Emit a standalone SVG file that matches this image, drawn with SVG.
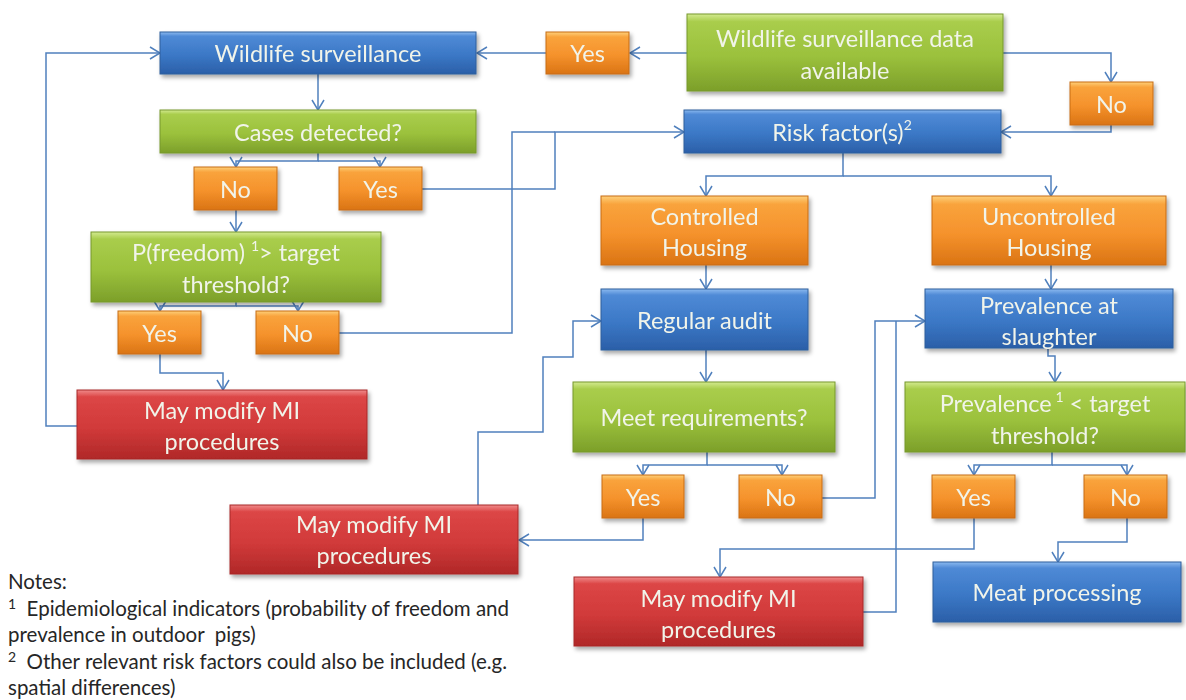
<svg xmlns="http://www.w3.org/2000/svg" width="1186" height="700" viewBox="0 0 1186 700">
<style>
.t{font-family:Lato,"Open Sans","Liberation Sans",sans-serif;font-size:23.5px;fill:#f1f4ea;text-anchor:middle;dominant-baseline:central}
.blue{fill:url(#gB);stroke:#2f5f9c;stroke-width:1}
.green{fill:url(#gG);stroke:#76982c;stroke-width:1}
.orange{fill:url(#gO);stroke:#c86d12;stroke-width:1}
.red{fill:url(#gR);stroke:#a82828;stroke-width:1}
.box{filter:url(#sh)}
.c{fill:none;stroke:#5080bd;stroke-width:1.5}
.a{marker-end:url(#arr)}
.n{font-family:Lato,"Open Sans","Liberation Sans",sans-serif;font-size:20.5px;fill:#262626;white-space:pre}
.sup{font-size:14px}
</style>
<defs>
<linearGradient id="gB" x1="0" y1="0" x2="0" y2="1">
<stop offset="0" stop-color="#8cbaf0"/><stop offset="0.1" stop-color="#4f8ad6"/><stop offset="0.55" stop-color="#3b78c6"/><stop offset="1" stop-color="#2b5fa8"/>
</linearGradient>
<linearGradient id="gG" x1="0" y1="0" x2="0" y2="1">
<stop offset="0" stop-color="#d3ea90"/><stop offset="0.1" stop-color="#a9cd4c"/><stop offset="0.55" stop-color="#9bc13c"/><stop offset="1" stop-color="#7c9f2a"/>
</linearGradient>
<linearGradient id="gO" x1="0" y1="0" x2="0" y2="1">
<stop offset="0" stop-color="#fed07a"/><stop offset="0.12" stop-color="#f9a33c"/><stop offset="0.55" stop-color="#f5922c"/><stop offset="1" stop-color="#da7414"/>
</linearGradient>
<linearGradient id="gR" x1="0" y1="0" x2="0" y2="1">
<stop offset="0" stop-color="#f08a8a"/><stop offset="0.1" stop-color="#dc4646"/><stop offset="0.55" stop-color="#d13a3a"/><stop offset="1" stop-color="#b02828"/>
</linearGradient>
<filter id="sh" x="-10%" y="-20%" width="125%" height="150%">
<feDropShadow dx="2" dy="3" stdDeviation="2" flood-color="#000" flood-opacity="0.35"/>
</filter>
<marker id="arr" markerUnits="userSpaceOnUse" viewBox="0 0 12 14" refX="11" refY="7" markerWidth="12" markerHeight="14" orient="auto">
<path d="M1,1 L11,7 L1,13" fill="none" stroke="#5080bd" stroke-width="1.5"/>
</marker>
</defs>

<g id="connectors">
<path class="c a" d="M687,53 H630"/>
<path class="c a" d="M546,53 H477"/>
<path class="c a" d="M1003,53 H1111 V82"/>
<path class="c a" d="M1111,125 V132 H1001"/>
<path class="c a" d="M318,74 V110"/>
<path class="c a" d="M318,153 V161 H236 V167"/>
<path class="c a" d="M318,161 H380 V167"/>
<path class="c a" d="M236,210 V232"/>
<path class="c a" d="M422,189 H555 V132 H684"/>
<path class="c" d="M339,333 H512 V132 H555"/>
<path class="c a" d="M236,302 V306 H160 V311"/>
<path class="c a" d="M236,306 H298 V311"/>
<path class="c a" d="M160,354 V373 H223 V390"/>
<path class="c a" d="M77,426 H46 V53 H160"/>
<path class="c a" d="M843,153 V176 H706 V196"/>
<path class="c a" d="M843,176 H1051 V196"/>
<path class="c a" d="M706,265 V289"/>
<path class="c a" d="M1051,265 V289"/>
<path class="c a" d="M706,350 V382"/>
<path class="c a" d="M707,452 V465 H643 V475"/>
<path class="c a" d="M707,465 H782 V475"/>
<path class="c a" d="M643,518 V540 H519"/>
<path class="c a" d="M478,505 V432 H543 V357 H573 V321 H601"/>
<path class="c a" d="M822,498 H875 V321 H925"/>
<path class="c" d="M863,612 H896 V321"/>
<path class="c a" d="M1048,348 V356 H1055 V382"/>
<path class="c a" d="M1052,452 V465 H974 V475"/>
<path class="c a" d="M1052,465 H1127 V475"/>
<path class="c a" d="M974,518 V549 H720 V577"/>
<path class="c a" d="M1127,518 V542 H1058 V562"/>
</g>

<g id="n-ws" class="box"><rect class="blue" x="160" y="32" width="316" height="42"/><text class="t" x="318" y="53">Wildlife surveillance</text></g>
<g id="n-yes1" class="box"><rect class="orange" x="546" y="32" width="83" height="42"/><text class="t" x="587.5" y="53">Yes</text></g>
<g id="n-wsda" class="box"><rect class="green" x="687" y="14" width="316" height="77"/><text class="t" x="845" y="38">Wildlife surveillance data</text><text class="t" x="845" y="70">available</text></g>
<g id="n-no1" class="box"><rect class="orange" x="1070" y="82" width="83" height="43"/><text class="t" x="1111.5" y="103.5">No</text></g>
<g id="n-cd" class="box"><rect class="green" x="160" y="110" width="316" height="43"/><text class="t" x="318" y="131.5">Cases detected?</text></g>
<g id="n-rf" class="box"><rect class="blue" x="684" y="110" width="317" height="43"/><text class="t" x="842" y="131.5">Risk factor(s)<tspan class="sup" dy="-8">2</tspan></text></g>
<g id="n-no2" class="box"><rect class="orange" x="194" y="167" width="83" height="43"/><text class="t" x="235.5" y="188.5">No</text></g>
<g id="n-yes2" class="box"><rect class="orange" x="339" y="167" width="83" height="43"/><text class="t" x="380.5" y="188.5">Yes</text></g>
<g id="n-pf" class="box"><rect class="green" x="91" y="232" width="290" height="70"/><text class="t" x="236" y="252">P(freedom) <tspan class="sup" dy="-7">1</tspan><tspan dy="7">&gt; target</tspan></text><text class="t" x="236" y="284">threshold?</text></g>
<g id="n-ch" class="box"><rect class="orange" x="601" y="196" width="207" height="69"/><text class="t" x="704.5" y="216">Controlled</text><text class="t" x="704.5" y="247">Housing</text></g>
<g id="n-uh" class="box"><rect class="orange" x="932" y="196" width="234" height="69"/><text class="t" x="1049" y="216">Uncontrolled</text><text class="t" x="1049" y="247">Housing</text></g>
<g id="n-yes3" class="box"><rect class="orange" x="118" y="311" width="83" height="43"/><text class="t" x="159.5" y="332.5">Yes</text></g>
<g id="n-no3" class="box"><rect class="orange" x="256" y="311" width="83" height="43"/><text class="t" x="297.5" y="332.5">No</text></g>
<g id="n-ra" class="box"><rect class="blue" x="601" y="289" width="207" height="61"/><text class="t" x="704.5" y="319.5">Regular audit</text></g>
<g id="n-ps" class="box"><rect class="blue" x="925" y="289" width="248" height="59"/><text class="t" x="1049" y="305">Prevalence at</text><text class="t" x="1049" y="336">slaughter</text></g>
<g id="n-red1" class="box"><rect class="red" x="77" y="390" width="290" height="69"/><text class="t" x="222" y="410">May modify MI</text><text class="t" x="222" y="441">procedures</text></g>
<g id="n-mr" class="box"><rect class="green" x="573" y="382" width="262" height="70"/><text class="t" x="704" y="417">Meet requirements?</text></g>
<g id="n-pt" class="box"><rect class="green" x="905" y="382" width="280" height="70"/><text class="t" x="1045" y="403">Prevalence<tspan class="sup" dy="-7"> 1</tspan><tspan dy="7"> &lt; target</tspan></text><text class="t" x="1045" y="435">threshold?</text></g>
<g id="n-yes4" class="box"><rect class="orange" x="602" y="475" width="82" height="43"/><text class="t" x="643" y="496.5">Yes</text></g>
<g id="n-no4" class="box"><rect class="orange" x="739" y="475" width="83" height="43"/><text class="t" x="780.5" y="496.5">No</text></g>
<g id="n-yes5" class="box"><rect class="orange" x="932" y="475" width="83" height="43"/><text class="t" x="973.5" y="496.5">Yes</text></g>
<g id="n-no5" class="box"><rect class="orange" x="1084" y="475" width="83" height="43"/><text class="t" x="1125.5" y="496.5">No</text></g>
<g id="n-red2" class="box"><rect class="red" x="230" y="505" width="288" height="69"/><text class="t" x="374" y="524">May modify MI</text><text class="t" x="374" y="555">procedures</text></g>
<g id="n-mp" class="box"><rect class="blue" x="933" y="562" width="248" height="60"/><text class="t" x="1057" y="592">Meat processing</text></g>
<g id="n-red3" class="box"><rect class="red" x="574" y="577" width="289" height="69"/><text class="t" x="718.5" y="598">May modify MI</text><text class="t" x="718.5" y="629">procedures</text></g>

<g id="notes">
<text class="n" x="8" y="589">Notes:</text>
<text class="n" x="8" y="616"><tspan class="sup" dy="-7">1</tspan><tspan dy="7">  Epidemiological indicators (probability of freedom and</tspan></text>
<text class="n" x="8" y="642">prevalence in outdoor  pigs)</text>
<text class="n" x="8" y="669"><tspan class="sup" dy="-7">2</tspan><tspan dy="7">  Other relevant risk factors could also be included (e.g.</tspan></text>
<text class="n" x="8" y="695">spatial differences)</text>
</g>
</svg>
